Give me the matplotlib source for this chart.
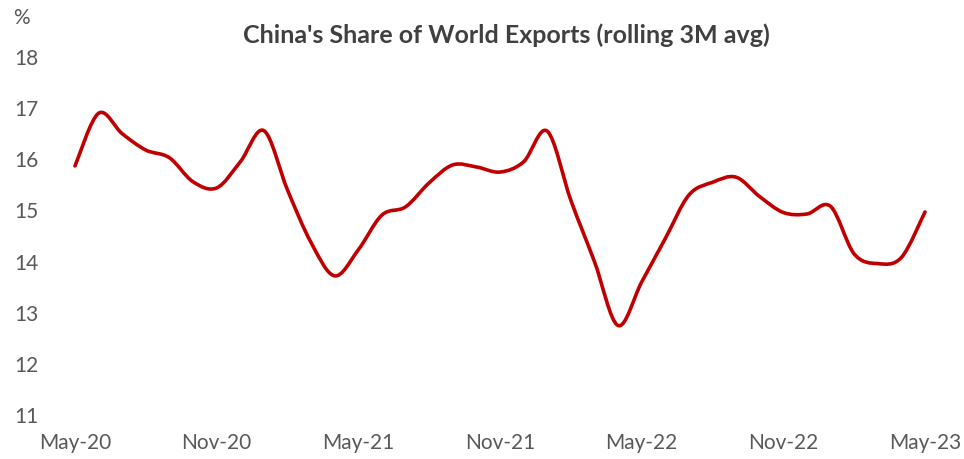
import numpy as np
import matplotlib
matplotlib.use("Agg")
import matplotlib.pyplot as plt
from matplotlib.path import Path
from matplotlib.patches import PathPatch

plt.rcParams['font.family'] = ['Lato', 'DejaVu Sans']

months = ["May-20", "Jun-20", "Jul-20", "Aug-20", "Sep-20", "Oct-20", "Nov-20", "Dec-20",
          "Jan-21", "Feb-21", "Mar-21", "Apr-21", "May-21", "Jun-21", "Jul-21", "Aug-21",
          "Sep-21", "Oct-21", "Nov-21", "Dec-21", "Jan-22", "Feb-22", "Mar-22", "Apr-22",
          "May-22", "Jun-22", "Jul-22", "Aug-22", "Sep-22", "Oct-22", "Nov-22", "Dec-22",
          "Jan-23", "Feb-23", "Mar-23", "Apr-23", "May-23"]
share = [15.87, 16.90, 16.50, 16.18, 16.03, 15.56, 15.44, 15.95,
         16.56, 15.40, 14.37, 13.72, 14.23, 14.91, 15.07, 15.54,
         15.89, 15.85, 15.75, 15.95, 16.55, 15.20, 14.00, 12.75,
         13.60, 14.45, 15.30, 15.55, 15.65, 15.27, 14.96, 14.93,
         15.08, 14.15, 13.96, 14.08, 14.97]
tick_labels = ["May-20", "Nov-20", "May-21", "Nov-21", "May-22", "Nov-22", "May-23"]

W, H = 964, 459
fig = plt.figure(figsize=(W / 100, H / 100), dpi=100)
ax = fig.add_axes([75 / W, 1 - 415 / H, 850 / W, (415 - 57) / H])

x = np.arange(len(share), dtype=float)
y = np.array(share, dtype=float)

# smoothed line: Catmull-Rom style cubic Bezier segments through each point
verts = [(x[0], y[0])]
codes = [Path.MOVETO]
n = len(x)
t = 1 / 6
for i in range(n - 1):
    p0 = (x[max(i - 1, 0)], y[max(i - 1, 0)])
    p1 = (x[i], y[i])
    p2 = (x[i + 1], y[i + 1])
    p3 = (x[min(i + 2, n - 1)], y[min(i + 2, n - 1)])
    c1 = (p1[0] + (p2[0] - p0[0]) * t, p1[1] + (p2[1] - p0[1]) * t)
    c2 = (p2[0] - (p3[0] - p1[0]) * t, p2[1] - (p3[1] - p1[1]) * t)
    verts += [c1, c2, p2]
    codes += [Path.CURVE4] * 3
patch = PathPatch(Path(verts, codes), facecolor='none', edgecolor='#C00000',
                  lw=2.6, capstyle='round', joinstyle='round', clip_on=False)
ax.add_patch(patch)

ax.set_xlim(0, n - 1)
ax.set_ylim(11, 18)
ax.set_yticks(range(11, 19))
ax.set_xticks([months.index(m) for m in tick_labels])
ax.set_xticklabels(tick_labels)
for s in ax.spines.values():
    s.set_visible(False)
ax.tick_params(axis='both', length=0, labelsize=15, colors='#595959')
ax.tick_params(axis='x', pad=13)
ax.tick_params(axis='y', pad=44)
for lab in ax.get_yticklabels():
    lab.set_horizontalalignment('left')

fig.text(13 / W, 1 - 18 / H, "%", fontsize=15, color='#595959', ha='left', va='center')
fig.text(506 / W, 1 - 35 / H, "China's Share of World Exports (rolling 3M avg)",
         fontsize=18, fontweight='bold', color='#404040', ha='center', va='center')

fig.savefig("out.png", dpi=100)
